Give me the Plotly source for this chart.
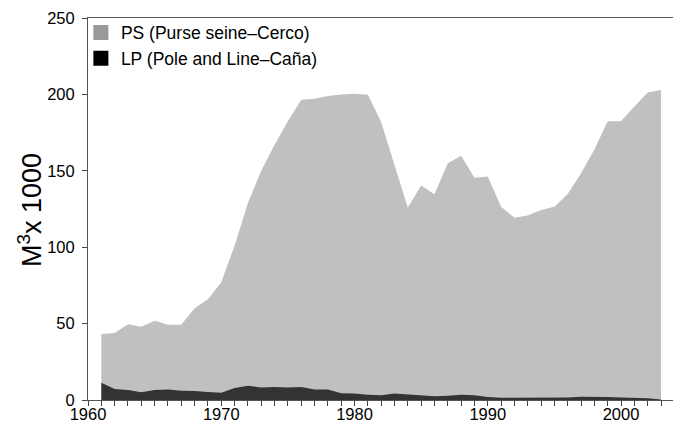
import plotly.graph_objects as go

years = list(range(1961, 2004))
ps = [43.2, 43.8, 49.5, 48.0, 51.9, 49.3, 49.3, 60.0, 66.0, 77.0,
      101.0, 129.0, 150.0, 167.0, 182.5, 196.5, 197.2, 199.0, 200.0, 200.5,
      199.8, 182.0, 153.8, 125.9, 140.3, 134.6, 154.9, 159.9, 145.5, 146.2,
      126.5, 119.3, 120.8, 124.3, 126.5, 134.8, 148.4, 164.0, 182.4, 182.4,
      192.0, 201.3, 202.9]
lp = [11.3, 7.2, 6.5, 5.0, 6.5, 6.8, 6.1, 5.9, 5.2, 4.8,
      7.8, 9.4, 8.1, 8.5, 8.1, 8.5, 6.8, 6.8, 4.4, 4.2,
      3.5, 3.1, 4.2, 3.7, 3.1, 2.4, 2.8, 3.5, 3.1, 2.0,
      1.5, 1.5, 1.5, 1.7, 1.7, 1.7, 2.2, 2.2, 2.0, 1.7,
      1.5, 1.1, 0.4]
series_names = ["PS (Purse seine\u2013Cerco)", "LP (Pole and Line\u2013Ca\u00f1a)"]
x_tickvals = list(range(1960, 2005))
x_ticktext = [str(v) if v % 10 == 0 else "" for v in x_tickvals]
y_tickvals = [0, 50, 100, 150, 200, 250]
y_ticktext = ["0", "50", "100", "150", "200", "250"]

font_family = "Liberation Sans, Arial, sans-serif"

fig = go.Figure()
fig.add_trace(go.Scatter(x=years, y=ps, mode="lines", line=dict(width=0, color="#c0c0c0"),
                         fill="tozeroy", fillcolor="#c0c0c0", showlegend=False, hoverinfo="skip"))
fig.add_trace(go.Scatter(x=years, y=lp, mode="lines", line=dict(width=0, color="#333333"),
                         fill="tozeroy", fillcolor="#333333", showlegend=False, hoverinfo="skip"))
# legend entries
fig.add_trace(go.Scatter(x=[None], y=[None], mode="markers", name=series_names[0],
                         marker=dict(symbol="square", size=15, color="#999999")))
fig.add_trace(go.Scatter(x=[None], y=[None], mode="markers", name=series_names[1],
                         marker=dict(symbol="square", size=15, color="#000000")))

# page body has an 8px margin: figure is drawn 8px right/down, so compensate
fig.update_layout(
    width=673, height=416,
    margin=dict(l=80, r=0, t=10, b=24, autoexpand=False),
    paper_bgcolor="white", plot_bgcolor="white",
    font=dict(family=font_family, size=16, color="black"),
    showlegend=True,
    legend=dict(x=-0.012, y=1.009, xanchor="left", yanchor="top",
                bgcolor="rgba(0,0,0,0)", font=dict(size=17.5, family=font_family),
                itemwidth=30, tracegroupgap=0),
    xaxis=dict(range=[1960, 2004.5], tickmode="array", tickvals=x_tickvals, ticktext=x_ticktext,
               ticks="outside", ticklen=5, tickcolor="#444", showline=True, linecolor="#555",
               linewidth=1, mirror=True, showgrid=False, zeroline=False, automargin=False,
               tickfont=dict(size=16.5), ticklabelstandoff=-6),
    yaxis=dict(range=[0, 250], tickmode="array", tickvals=y_tickvals, ticktext=y_ticktext,
               ticks="outside", ticklen=5, tickcolor="#444", showline=True, linecolor="#555",
               linewidth=1, showgrid=False, zeroline=False, automargin=False,
               tickfont=dict(size=16.5), ticklabelstandoff=4),
    annotations=[dict(text="M<sup>3</sup>x 1000", textangle=-90, xref="paper", yref="paper",
                      x=-0.098, y=0.497, xanchor="center", yanchor="middle", showarrow=False,
                      font=dict(size=27, family=font_family))],
)

fig.write_html("out.html")
